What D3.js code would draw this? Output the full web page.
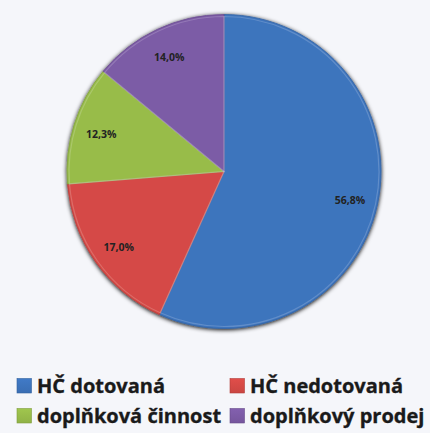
<!DOCTYPE html>
<html>
<head>
<meta charset="utf-8">
<script src="https://cdn.jsdelivr.net/npm/d3@7"></script>
<style>
  html, body { margin: 0; padding: 0; background: #f5f6fa; }
  svg { display: block; }
</style>
</head>
<body>
<script>
// chart data
var categories = ["HČ dotovaná", "HČ nedotovaná", "doplňková činnost", "doplňkový prodej"];
var values = [56.8, 17.0, 12.3, 14.0];
var labels = ["56,8%", "17,0%", "12,3%", "14,0%"];
var colors = ["#3d74bd", "#d54a46", "#98bc4a", "#7c5ba6"];

var svgWidth = 430;
var svgHeight = 433;
var cx = 224, cy = 171.5, radius = 157;

var svg = d3.select("body")
  .append("svg")
    .attr("width", svgWidth)
    .attr("height", svgHeight);

svg.append("rect")
  .attr("width", svgWidth)
  .attr("height", svgHeight)
  .attr("fill", "#f5f6fa");

var defs = svg.append("defs");

// soft shadow round the pie
var shadow = defs.append("filter")
  .attr("id", "shadow")
  .attr("x", "-10%").attr("y", "-10%")
  .attr("width", "120%").attr("height", "120%");
shadow.append("feGaussianBlur").attr("in", "SourceAlpha").attr("stdDeviation", 2);
shadow.append("feOffset").attr("dx", 0).attr("dy", 1).attr("result", "blur");
var merge = shadow.append("feMerge");
merge.append("feMergeNode").attr("in", "blur");
merge.append("feMergeNode").attr("in", "SourceGraphic");

// light gradients per colour
colors.forEach(function(c, i) {
  var g = defs.append("linearGradient")
    .attr("id", "grad" + i)
    .attr("x1", 0).attr("y1", 0).attr("x2", 0).attr("y2", 1);
  g.append("stop").attr("offset", "0%").attr("stop-color", d3.color(c).brighter(0.15));
  g.append("stop").attr("offset", "100%").attr("stop-color", d3.color(c).darker(0.15));
});

var pie = d3.pie().sort(null).value(function(d) { return d; });
var arcs = pie(values);

var arc = d3.arc().innerRadius(0).outerRadius(radius);
var labelArc = d3.arc().innerRadius(radius * 0.82).outerRadius(radius * 0.82);

var g = svg.append("g")
  .attr("transform", "translate(" + cx + "," + cy + ")");

var slices = g.append("g").attr("filter", "url(#shadow)");

slices.selectAll("path")
  .data(arcs)
  .enter()
  .append("path")
    .attr("d", arc)
    .attr("fill", function(d, i) { return colors[i]; })
    .attr("stroke", function(d, i) { return d3.color(colors[i]).darker(0.4); })
    .attr("stroke-width", 0.8)
    .attr("stroke-linejoin", "round");

// bevel highlight along the inner edges
slices.selectAll("path.hl")
  .data(arcs)
  .enter()
  .append("path")
    .attr("class", "hl")
    .attr("d", d3.arc().innerRadius(0).outerRadius(radius - 2))
    .attr("fill", "none")
    .attr("stroke", "rgba(255,255,255,0.18)")
    .attr("stroke-width", 1.2);

g.selectAll("text.pct")
  .data(arcs)
  .enter()
  .append("text")
    .attr("class", "pct")
    .attr("x", function(d) { return labelArc.centroid(d)[0]; })
    .attr("y", function(d) { return labelArc.centroid(d)[1] + 2; })
    .attr("text-anchor", "middle")
    .attr("dy", "0.35em")
    .style("font-family", "'Open Sans', sans-serif")
    .style("font-weight", "bold")
    .style("font-size", "10.5px")
    .style("fill", "#222")
    .text(function(d, i) { return labels[i]; });

// legend
var legendX = [17, 230];
var legendY = [393, 423];

var legend = svg.append("g");
var items = legend.selectAll("g")
  .data(categories)
  .enter()
  .append("g")
    .attr("transform", function(d, i) {
      return "translate(" + legendX[i % 2] + "," + legendY[Math.floor(i / 2)] + ")";
    });

items.append("rect")
  .attr("x", 0)
  .attr("y", -14.5)
  .attr("width", 14.5)
  .attr("height", 14.5)
  .attr("fill", function(d, i) { return "url(#grad" + i + ")"; })
  .attr("stroke", function(d, i) { return d3.color(colors[i]).darker(0.5); })
  .attr("stroke-width", 0.6);

items.append("text")
  .attr("x", 20)
  .attr("y", 0)
  .style("font-family", "'Open Sans', sans-serif")
  .style("font-weight", "bold")
  .style("font-size", "20px")
  .style("fill", "#1a1a1a")
  .style("stroke", "#1a1a1a")
  .style("stroke-width", "0.35px")
  .text(function(d) { return d; });
</script>
</body>
</html>
